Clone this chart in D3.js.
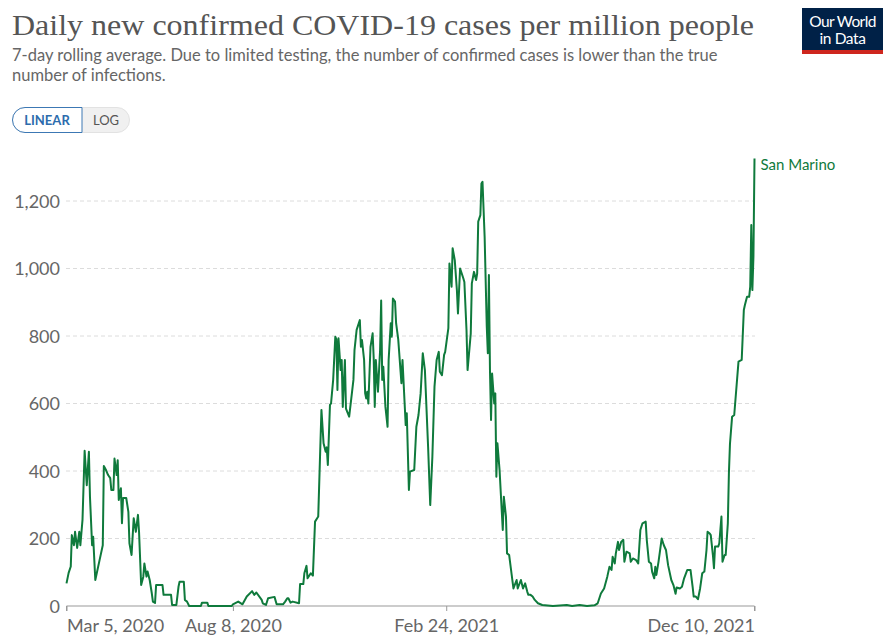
<!DOCTYPE html>
<html>
<head>
<meta charset="utf-8">
<script src="https://cdn.jsdelivr.net/npm/d3@7/dist/d3.min.js"></script>
<style>
  html, body { margin: 0; padding: 0; background: #fff; }
  svg { display: block; font-family: Lato, "Noto Sans", sans-serif; }
</style>
</head>
<body>
<svg id="chart" width="889" height="640"></svg>
<script>
// ---- Data ----
const startDate = "2020-03-05";
const seriesName = "San Marino";
// days since Mar 5, 2020
const dayOffsets = [0,2,4,5,7,8,10,12,13,15,17,19,21,22,24,25,27,31,34,35,37,39,41,42,44,45,47,48,49,51,52,53,56,58,59,61,63,65,67,68,70,72,73,75,76,78,80,81,83,84,90,91,98,99,103,105,106,110,111,113,115,126,127,132,133,155,156,161,165,169,174,176,178,183,184,187,189,195,197,203,205,207,208,210,212,218,219,222,223,225,226,229,231,233,235,236,239,241,243,244,245,247,248,250,252,253,254,255,257,258,259,261,262,265,267,269,270,272,275,276,277,279,280,281,282,283,285,287,288,289,290,292,294,295,296,297,299,301,302,304,305,306,308,309,311,314,315,317,318,319,321,322,326,328,330,332,334,336,339,341,343,345,347,349,350,352,354,355,358,359,361,362,364,366,367,369,372,373,375,376,379,380,382,384,385,386,388,389,390,392,394,395,396,397,398,399,401,402,403,404,406,409,410,412,413,415,418,419,422,423,426,428,430,432,433,435,437,439,442,446,456,469,474,481,488,495,498,501,504,507,509,511,512,514,515,517,518,520,522,523,525,528,529,531,534,536,538,540,543,544,546,548,549,551,552,553,555,558,560,562,564,567,569,571,572,575,577,579,582,585,587,588,590,592,594,596,598,600,601,603,604,606,607,608,611,612,614,615,617,618,620,621,622,624,626,630,633,635,636,638,640,641,642,643,644,645];
const casesPerMillion = [67,98,117,210,180,220,172,220,180,255,460,358,457,324,180,205,77,136,180,415,403,388,379,344,344,437,388,432,314,349,245,320,320,279,186,151,260,220,270,220,62,87,126,87,102,77,37,13,9,62,62,33,33,3,3,57,72,72,18,13,0,0,10,10,0,0,5,13,5,28,44,33,40,18,8,3,23,27,5,5,13,23,23,10,13,8,65,65,97,119,82,97,90,250,260,265,581,482,457,470,418,596,600,670,798,790,640,793,699,729,590,729,585,561,615,670,758,818,847,768,788,729,630,615,635,600,768,808,734,590,729,635,758,905,670,709,590,531,729,838,798,911,902,838,790,660,729,600,536,571,344,398,403,531,566,630,749,699,472,299,442,650,729,753,694,684,744,753,823,1015,946,1060,1025,936,867,1000,971,960,818,699,808,956,990,966,985,1139,1158,1252,1257,1094,828,749,981,699,551,689,600,630,383,482,403,225,324,265,156,151,77,52,77,52,77,52,67,42,33,33,28,18,8,3,0,3,0,3,0,2,8,37,52,87,116,107,146,126,156,190,166,190,196,131,161,156,131,141,136,126,225,245,250,196,131,126,102,82,116,92,131,200,180,166,121,77,62,36,55,52,57,82,107,107,57,28,28,20,52,97,102,166,220,215,210,151,112,176,176,186,265,131,151,151,245,393,480,561,566,724,729,877,892,916,916,946,1129,936,1035,1326];
const yTicks = [0,200,400,600,800,1000,1200];
const xTickDates = ["2020-03-05","2020-08-08","2021-02-24","2021-12-10"];
const xTickLabels = ["Mar 5, 2020","Aug 8, 2020","Feb 24, 2021","Dec 10, 2021"];

const parse = d3.utcParse("%Y-%m-%d");
const t0 = parse(startDate);
const data = dayOffsets.map((d, i) => ({ date: d3.utcDay.offset(t0, d), value: casesPerMillion[i] }));

const svg = d3.select("#chart");
const lineColor = "#0f7a3c";

// ---- Header ----
svg.append("text")
  .attr("x", 12).attr("y", 35)
  .attr("font-family", "'Liberation Serif', 'DejaVu Serif', serif")
  .attr("font-size", 30)
  .attr("fill", "#555")
  .attr("textLength", 742)
  .attr("lengthAdjust", "spacingAndGlyphs")
  .text("Daily new confirmed COVID-19 cases per million people");

const sub = ["7-day rolling average. Due to limited testing, the number of confirmed cases is lower than the true",
             "number of infections."];
svg.selectAll("text.sub").data(sub).join("text")
  .attr("class", "sub")
  .attr("x", 12).attr("y", (d, i) => 61 + i * 19.5)
  .attr("font-size", 16.5)
  .attr("fill", "#666")
  .text(d => d);

// Logo
const logo = svg.append("g");
logo.append("rect").attr("x", 802).attr("y", 8).attr("width", 81).attr("height", 46).attr("fill", "#002147");
logo.append("rect").attr("x", 802).attr("y", 50).attr("width", 81).attr("height", 4).attr("fill", "#ce261e");
logo.append("text").attr("x", 842.5).attr("y", 27).attr("text-anchor", "middle")
  .attr("fill", "#fff").attr("font-size", 15.5).attr("letter-spacing", -0.6).text("Our World");
logo.append("text").attr("x", 842.5).attr("y", 44).attr("text-anchor", "middle")
  .attr("fill", "#fff").attr("font-size", 15.5).attr("letter-spacing", -0.4).text("in Data");

// Toggle buttons
const btn = svg.append("g");
btn.append("rect").attr("x", 12.5).attr("y", 107.5).attr("width", 117).attr("height", 25).attr("rx", 12.5)
  .attr("fill", "#f0f0f0").attr("stroke", "#e2e2e2");
btn.append("path")
  .attr("d", "M82,107.5 L25,107.5 A12.5,12.5 0 0 0 25,132.5 L82,132.5 Z")
  .attr("fill", "#fff").attr("stroke", "#3c78b4").attr("stroke-width", 1);
btn.append("text").attr("x", 47).attr("y", 125).attr("text-anchor", "middle")
  .attr("font-size", 13).attr("font-weight", "bold").attr("fill", "#2d6cad").text("LINEAR");
btn.append("text").attr("x", 106).attr("y", 125).attr("text-anchor", "middle")
  .attr("font-size", 13).attr("fill", "#555").text("LOG");

// ---- Scales ----
const x = d3.scaleUtc()
  .domain([parse("2020-03-05"), parse("2021-12-10")])
  .range([66.5, 754.5]);
const y = d3.scaleLinear().domain([0, 1200]).range([606, 201]);

// Gridlines
svg.append("g").selectAll("line").data(yTicks.filter(d => d > 0)).join("line")
  .attr("x1", 66).attr("x2", 755)
  .attr("y1", d => y(d)).attr("y2", d => y(d))
  .attr("stroke", "#dcdcdc").attr("stroke-dasharray", "4,3");

// Y axis labels
const yAxis = d3.axisLeft(y).tickValues(yTicks).tickSize(0).tickPadding(6).tickFormat(d3.format(","));
const yg = svg.append("g").attr("transform", "translate(60,0)").call(yAxis);
yg.select(".domain").remove();
yg.selectAll("text").attr("font-size", 18).attr("fill", "#666").attr("font-family", "Lato, sans-serif")
  .attr("x", 0).attr("dy", "0.35em");

// X axis
const xAxis = d3.axisBottom(x)
  .tickValues(xTickDates.map(parse))
  .tickSize(5).tickPadding(6)
  .tickFormat((d, i) => xTickLabels[i]);
const xg = svg.append("g").attr("transform", "translate(0,606)").call(xAxis);
xg.select(".domain").attr("stroke", "#999").attr("d", "M66.5,5V0H754.5V5");
xg.selectAll(".tick line").attr("stroke", "#999");
xg.selectAll("text").attr("font-size", 18).attr("fill", "#666").attr("font-family", "Lato, sans-serif")
  .attr("text-anchor", (d, i) => i === 0 ? "start" : (i === xTickDates.length - 1 ? "end" : "middle"))
  .attr("y", 26).attr("dy", 0);

// Line
const line = d3.line().x(d => x(d.date)).y(d => y(d.value));
svg.append("path").datum(data)
  .attr("fill", "none").attr("stroke", lineColor).attr("stroke-width", 2)
  .attr("stroke-linejoin", "round")
  .attr("d", line);

// Series label
const last = data[data.length - 1];
svg.append("text")
  .attr("x", x(last.date) + 6).attr("y", y(last.value) + 12)
  .attr("font-size", 15).attr("fill", lineColor)
  .text(seriesName);
</script>
</body>
</html>
